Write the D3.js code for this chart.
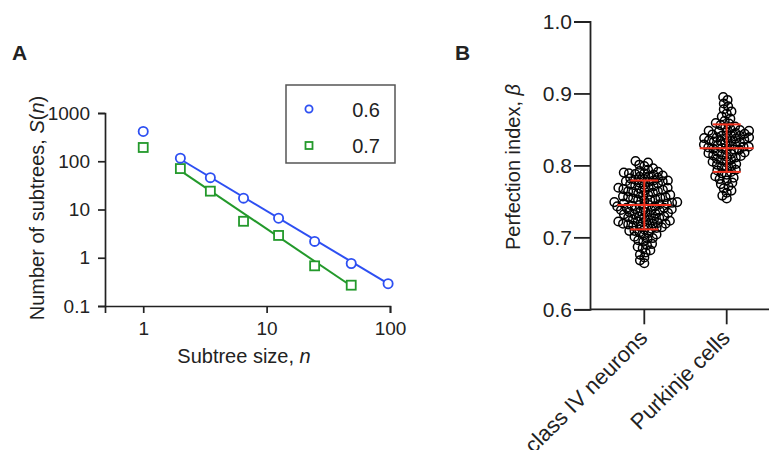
<!DOCTYPE html>
<html>
<head>
<meta charset="utf-8">
<script src="https://cdn.jsdelivr.net/npm/d3@7"></script>
<style>
  body { margin: 0; background: #fff; }
  text { font-family: "Liberation Sans", Arial, sans-serif; fill: #222; }
</style>
</head>
<body>
<script>
// ---- panel A data: subtree size distribution ----
var sizes06 = [1, 2, 3.5, 6.5, 12.5, 24.5, 48.5, 96.5];
var counts06 = [415, 116, 45.7, 17.2, 6.6, 2.18, 0.76, 0.29];
var sizes07 = [1, 2, 3.5, 6.5, 12.5, 24.5, 48.5];
var counts07 = [193, 70.5, 24, 5.7, 2.9, 0.68, 0.27];
// fitted power-law lines (end points)
var fit06n = [2, 96.5], fit06s = [110, 0.29];
var fit07n = [2, 48.5], fit07s = [64, 0.26];
var legendLabels = ["0.6", "0.7"];
var xTicksA = [1, 10, 100];
var yTicksA = [0.1, 1, 10, 100, 1000];

// ---- panel B data: perfection index ----
var groups = ["class IV neurons", "Purkinje cells"];
var classIV = [0.664, 0.668, 0.672, 0.676, 0.679, 0.682, 0.685, 0.687, 0.689,
  0.691, 0.694, 0.696, 0.698, 0.699, 0.701, 0.703, 0.704, 0.706, 0.707, 0.709, 0.709,
  0.711, 0.712, 0.713, 0.714, 0.715, 0.716, 0.717, 0.718, 0.719, 0.719, 0.719,
  0.720, 0.721, 0.722, 0.722, 0.723, 0.724, 0.725, 0.726, 0.727, 0.728, 0.728, 0.729, 0.729,
  0.731, 0.732, 0.732, 0.733, 0.734, 0.735, 0.735, 0.736, 0.737, 0.738, 0.738, 0.739, 0.739,
  0.741, 0.741, 0.742, 0.743, 0.743, 0.744, 0.745, 0.745, 0.746, 0.747, 0.747, 0.748, 0.749, 0.749,
  0.751, 0.752, 0.752, 0.753, 0.754, 0.755, 0.756, 0.756, 0.757, 0.758, 0.759, 0.759,
  0.761, 0.762, 0.763, 0.764, 0.764, 0.765, 0.766, 0.767, 0.768, 0.769, 0.769, 0.769,
  0.771, 0.772, 0.773, 0.774, 0.775, 0.776, 0.777, 0.778, 0.779, 0.779, 0.778,
  0.780, 0.781, 0.782, 0.783, 0.784, 0.785, 0.786, 0.787, 0.788, 0.789, 0.789,
  0.790, 0.791, 0.792, 0.794, 0.796,
  0.799, 0.801, 0.804, 0.806];
var purkinje = [0.754, 0.758, 0.762, 0.765, 0.768, 0.771, 0.774, 0.776, 0.779,
  0.781, 0.783, 0.785, 0.787, 0.789, 0.791, 0.793, 0.794, 0.796, 0.798, 0.799,
  0.801, 0.802, 0.804, 0.805, 0.807, 0.808, 0.809,
  0.811, 0.812, 0.813, 0.814, 0.815, 0.816, 0.817, 0.818, 0.819,
  0.821, 0.822, 0.822, 0.823, 0.824, 0.825, 0.826, 0.826, 0.827, 0.828, 0.829, 0.829,
  0.831, 0.832, 0.833, 0.834, 0.834, 0.835, 0.836, 0.837, 0.838, 0.838, 0.839, 0.839,
  0.841, 0.841, 0.842, 0.843, 0.844, 0.845, 0.846, 0.847, 0.848, 0.848, 0.849,
  0.851, 0.853, 0.854, 0.856, 0.858, 0.859, 0.862, 0.865, 0.868,
  0.872, 0.875, 0.878, 0.882, 0.886, 0.891, 0.895];
var groupMeans = [0.745, 0.824];
var groupSDs = [0.034, 0.033];
var yTicksB = [0.6, 0.7, 0.8, 0.9, 1.0];

var blue = "#2d4ff2", green = "#23992b", red = "#f2321e", ink = "#222";

var svg = d3.select("body").append("svg")
    .attr("width", 769)
    .attr("height", 450);

// ================= panel A =================
var xA = d3.scaleLog().domain([0.49, 100]).range([105, 390]);
var yA = d3.scaleLog().domain([0.1, 1000]).range([306, 113]);

var axA = svg.append("g").attr("transform", "translate(0,306)")
    .call(d3.axisBottom(xA).tickValues(xTicksA).tickFormat(d3.format("d"))
        .tickSizeOuter(0).tickSize(7).tickPadding(9));
var ayA = svg.append("g").attr("transform", "translate(105,0)")
    .call(d3.axisLeft(yA).tickValues(yTicksA).tickFormat(function(d) { return d < 1 ? "0.1" : d3.format("d")(d); })
        .tickSizeOuter(0).tickSize(7).tickPadding(8));
[axA, ayA].forEach(function(g) {
  g.selectAll("path, line").attr("stroke", ink).attr("stroke-width", 1.7);
  g.selectAll("text").style("font-size", "19px").attr("fill", ink)
   .style("font-family", "'Liberation Sans', Arial, sans-serif");
});

var line = d3.line().x(function(d) { return xA(d[0]); }).y(function(d) { return yA(d[1]); });
svg.append("path").attr("d", line(d3.zip(fit06n, fit06s)))
    .attr("fill", "none").attr("stroke", blue).attr("stroke-width", 2);
svg.append("path").attr("d", line(d3.zip(fit07n, fit07s)))
    .attr("fill", "none").attr("stroke", green).attr("stroke-width", 2);

svg.selectAll("rect.sq").data(d3.zip(sizes07, counts07)).enter().append("rect")
    .attr("class", "sq")
    .attr("x", function(d) { return xA(d[0]) - 4.5; })
    .attr("y", function(d) { return yA(d[1]) - 4.5; })
    .attr("width", 9).attr("height", 9)
    .attr("fill", "#fff").attr("stroke", green).attr("stroke-width", 1.8);
svg.selectAll("circle.c06").data(d3.zip(sizes06, counts06)).enter().append("circle")
    .attr("class", "c06")
    .attr("cx", function(d) { return xA(d[0]); })
    .attr("cy", function(d) { return yA(d[1]); })
    .attr("r", 4.6)
    .attr("fill", "#fff").attr("stroke", blue).attr("stroke-width", 1.8);

// legend
svg.append("rect").attr("x", 286).attr("y", 85).attr("width", 109).attr("height", 78)
    .attr("fill", "none").attr("stroke", "#555").attr("stroke-width", 1.5);
svg.append("circle").attr("cx", 309).attr("cy", 109).attr("r", 3.6)
    .attr("fill", "none").attr("stroke", blue).attr("stroke-width", 1.8);
svg.append("rect").attr("x", 305.5).attr("y", 142).attr("width", 7).attr("height", 7)
    .attr("fill", "none").attr("stroke", green).attr("stroke-width", 1.8);
svg.selectAll("text.leg").data(legendLabels).enter().append("text")
    .attr("class", "leg")
    .attr("x", 380).attr("y", function(d, i) { return 116.5 + i * 36.5; })
    .attr("text-anchor", "end").style("font-size", "20px")
    .text(function(d) { return d; });

// titles
var tA = svg.append("text").attr("text-anchor", "middle")
    .attr("transform", "translate(244,363)").style("font-size", "20px");
tA.append("tspan").text("Subtree size, ");
tA.append("tspan").style("font-style", "italic").text("n");

var tyA = svg.append("text").attr("text-anchor", "middle")
    .attr("transform", "translate(44,208) rotate(-90)").style("font-size", "20px");
tyA.append("tspan").text("Number of subtrees, ");
tyA.append("tspan").style("font-style", "italic").text("S");
tyA.append("tspan").text("(");
tyA.append("tspan").style("font-style", "italic").text("n");
tyA.append("tspan").text(")");

svg.append("text").attr("x", 12).attr("y", 60).style("font-size", "21px")
    .style("font-weight", "bold").text("A");

// ================= panel B =================
var yB = d3.scaleLinear().domain([0.6, 1.0]).range([309.3, 21.5]);
var xB = d3.scalePoint().domain(groups).range([644.3, 726.7]);

var ayB = svg.append("g").attr("transform", "translate(590,0)")
    .call(d3.axisLeft(yB).tickValues(yTicksB).tickFormat(d3.format(".1f"))
        .tickSizeOuter(0).tickSize(16).tickPadding(2));
var axB = svg.append("g").attr("transform", "translate(0,309.3)");
axB.append("line").attr("x1", 590).attr("x2", 769).attr("stroke", ink).attr("stroke-width", 1.8);
axB.selectAll("line.tk").data(groups).enter().append("line")
    .attr("class", "tk")
    .attr("x1", function(d) { return xB(d); }).attr("x2", function(d) { return xB(d); })
    .attr("y1", 0).attr("y2", 15).attr("stroke", ink).attr("stroke-width", 1.8);
axB.selectAll("text.tl").data(groups).enter().append("text")
    .attr("class", "tl")
    .attr("text-anchor", "end")
    .attr("transform", function(d) { return "translate(" + (xB(d) + 4.5) + ",30) rotate(-45)"; })
    .style("font-size", "22px")
    .text(function(d) { return d; });
ayB.selectAll("path, line").attr("stroke", ink).attr("stroke-width", 1.8);
ayB.selectAll("text").style("font-size", "21px").attr("fill", ink)
   .style("font-family", "'Liberation Sans', Arial, sans-serif");

// simple beeswarm: each point takes the free spot closest to the centre line
function swarm(vals, d) {
  var placed = [];
  vals.slice().sort(d3.ascending).forEach(function(v) {
    var py = yB(v);
    var near = placed.filter(function(q) { return Math.abs(q.y - py) < d; });
    var cands = [0];
    near.forEach(function(q) {
      var h = Math.sqrt(d * d - (q.y - py) * (q.y - py));
      cands.push(q.x - h, q.x + h);
    });
    cands.sort(function(a, b) { return Math.abs(a) - Math.abs(b); });
    var px = 0;
    for (var i = 0; i < cands.length; i++) {
      var c = cands[i];
      var ok = near.every(function(q) { return (q.x - c) * (q.x - c) + (q.y - py) * (q.y - py) >= d * d - 0.01; });
      if (ok) { px = c; break; }
    }
    placed.push({ x: px, y: py, v: v });
  });
  return placed;
}

[classIV, purkinje].forEach(function(vals, gi) {
  var cx = xB(groups[gi]);
  svg.append("g").selectAll("circle").data(swarm(vals, 5.2)).enter().append("circle")
      .attr("cx", function(d) { return cx + d.x; })
      .attr("cy", function(d) { return d.y; })
      .attr("r", 4.3)
      .attr("fill", "none").attr("stroke", "#000").attr("stroke-width", 1.5);

  var m = groupMeans[gi], s = groupSDs[gi];
  var eb = svg.append("g").attr("stroke", red).attr("stroke-width", 2);
  eb.append("line").attr("x1", cx - 27).attr("x2", cx + 27).attr("y1", yB(m)).attr("y2", yB(m));
  eb.append("line").attr("x1", cx).attr("x2", cx).attr("y1", yB(m - s)).attr("y2", yB(m + s));
  eb.append("line").attr("x1", cx - 14).attr("x2", cx + 14).attr("y1", yB(m + s)).attr("y2", yB(m + s));
  eb.append("line").attr("x1", cx - 14).attr("x2", cx + 14).attr("y1", yB(m - s)).attr("y2", yB(m - s));
});

var tyB = svg.append("text").attr("text-anchor", "middle")
    .attr("transform", "translate(520,167) rotate(-90)").style("font-size", "20px");
tyB.append("tspan").text("Perfection index, ");
tyB.append("tspan").style("font-style", "italic").text("β");

svg.append("text").attr("x", 455).attr("y", 60).style("font-size", "21px")
    .style("font-weight", "bold").text("B");
</script>
</body>
</html>
